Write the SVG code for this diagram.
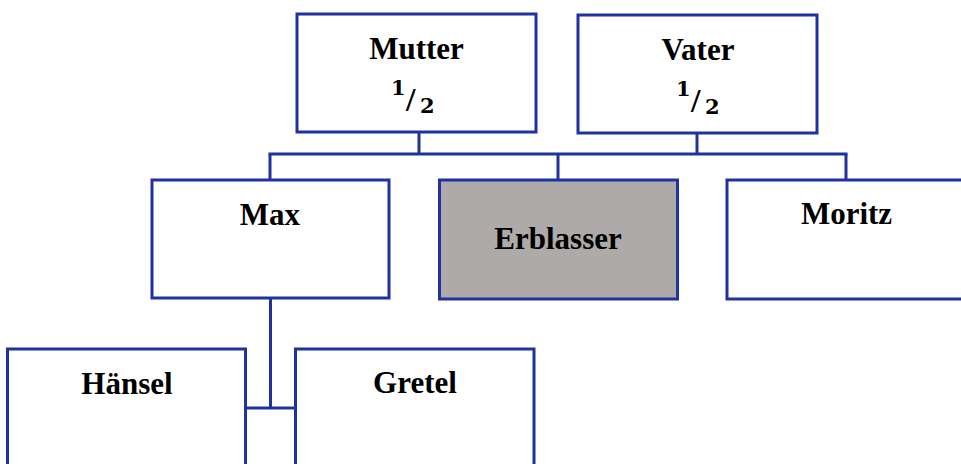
<svg xmlns="http://www.w3.org/2000/svg" width="961" height="464" viewBox="0 0 961 464">
<style>
.box{fill:#ffffff;stroke:#1f32a0;stroke-width:3}
.dead{fill:#adaaa9;stroke:#1f32a0;stroke-width:3}
.lbl{font-family:"Liberation Serif",serif;font-weight:bold;font-size:31px;fill:#000;text-anchor:middle}
.fr{font-family:"DejaVu Serif",serif;font-weight:bold;fill:#000}
.d{font-family:"DejaVu Serif",serif;font-size:21px}
.s{font-family:"Liberation Serif",serif;font-size:34px}
.conn line{stroke:#1f32a0;stroke-width:3;fill:none}
</style>
<rect width="961" height="464" fill="#ffffff"/>
<g class="conn" id="connectors">
<line x1="419" y1="132" x2="419" y2="154"/>
<line x1="697" y1="133" x2="697" y2="154"/>
<line x1="268.5" y1="154" x2="847.5" y2="154"/>
<line x1="270" y1="154" x2="270" y2="180"/>
<line x1="558" y1="154" x2="558" y2="180"/>
<line x1="846" y1="154" x2="846" y2="180"/>
<line x1="270.5" y1="298" x2="270.5" y2="408"/>
<line x1="245" y1="408" x2="296" y2="408"/>
</g>
<g id="mutter">
<rect class="box" x="297" y="14" width="239" height="118"/>
<text class="lbl" x="416.5" y="59">Mutter</text>
<text class="fr"><tspan class="d" x="391" y="95">1</tspan><tspan class="s" x="406" y="111">/</tspan><tspan class="d" x="420" y="113">2</tspan></text>
</g>
<g id="vater">
<rect class="box" x="578" y="15" width="239" height="118"/>
<text class="lbl" x="698" y="60">Vater</text>
<text class="fr"><tspan class="d" x="676" y="96">1</tspan><tspan class="s" x="691" y="112">/</tspan><tspan class="d" x="705" y="114">2</tspan></text>
</g>
<g id="max">
<rect class="box" x="152" y="180" width="237" height="118"/>
<text class="lbl" x="270" y="225">Max</text>
</g>
<g id="erblasser">
<rect class="dead" x="439.5" y="180" width="238" height="119"/>
<text class="lbl" x="558" y="249">Erblasser</text>
</g>
<g id="moritz">
<rect class="box" x="727" y="180" width="250" height="119"/>
<text class="lbl" x="846.5" y="224">Moritz</text>
</g>
<g id="haensel">
<rect class="box" x="7.5" y="349" width="238" height="130"/>
<text class="lbl" x="127" y="394">Hänsel</text>
</g>
<g id="gretel">
<rect class="box" x="295.5" y="349" width="238.5" height="130"/>
<text class="lbl" x="415" y="393">Gretel</text>
</g>
</svg>
